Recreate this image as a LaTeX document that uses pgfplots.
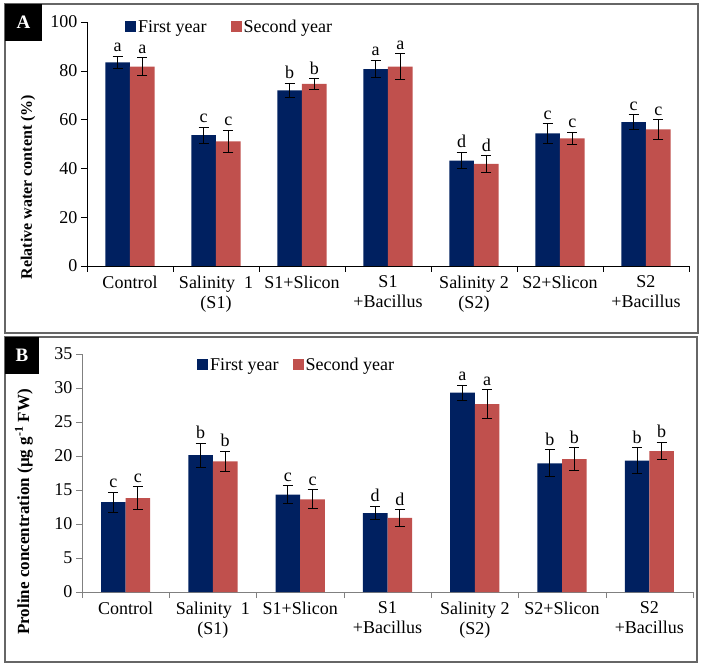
\documentclass[border=0pt]{standalone}
\usepackage{pgfplots}
\usepackage{pgfplotstable}
\pgfplotsset{compat=1.18}
\usepackage{fontspec}
\setmainfont{Liberation Serif}
\definecolor{navy}{HTML}{002060}
\definecolor{brick}{HTML}{C0504D}

\pgfplotstableread{
x y err lab
0 83.5 2.5 a
1 53.6 3.3 c
2 72.0 3.0 b
3 80.7 3.6 a
4 43.2 3.4 d
5 54.4 4.0 c
6 59.0 3.1 c
}\Afirst
\pgfplotstableread{
x y err lab
0 81.7 3.6 a
1 51.1 4.6 c
2 74.6 2.1 b
3 81.7 5.4 a
4 41.9 3.4 d
5 52.3 2.5 c
6 56.0 4.0 c
}\Asecond
\pgfplotstableread{
x y err lab
0 13.2 1.45 c
1 20.1 1.75 b
2 14.3 1.35 c
3 11.6 1.0 d
4 29.3 1.1 a
5 18.9 2.0 b
6 19.3 1.9 b
}\Bfirst
\pgfplotstableread{
x y err lab
0 13.8 1.7 c
1 19.2 1.5 b
2 13.6 1.4 c
3 10.9 1.2 d
4 27.6 2.1 a
5 19.5 1.7 b
6 20.7 1.3 b
}\Bsecond

\pgfplotsset{
  common/.style={
    scale only axis, ybar=0pt, bar width=24.6pt, clip=false,
    xmin=-0.5, xmax=6.5, enlarge x limits=false, ymin=0,
    axis x line*=bottom, axis y line*=left,
    xtick={0,...,6},
    xticklabels={Control,{Salinity~~1\\(S1)},S1+Slicon,{S1\\+Bacillus},{Salinity 2\\(S2)},S2+Slicon,{S2\\+Bacillus}},
    minor xtick={-0.5,0.5,...,6.5},
    major x tick style={draw=none},
    tick align=outside, major tick length=6pt, minor tick length=6pt,
    tick label style={font=\fontsize{18}{20}\selectfont},
    x tick label style={align=center},
    /pgf/number format/assume math mode=true,
    legend columns=2,
    legend image code/.code={\fill[##1,draw=none] (0pt,-5.5pt) rectangle (11pt,5.5pt);},
    error bars/y dir=both, error bars/y explicit,
    error bars/error bar style={line width=0.9pt,black},
    error bars/error mark options={rotate=90,mark size=5pt,line width=0.9pt,black},
    nodes near coords, point meta=explicit symbolic,
  },
}

\begin{document}
\begin{tikzpicture}[x=1pt,y=1pt]
\useasboundingbox (0,0) rectangle (704,667);
\draw[gray!80!black, line width=1.2pt] (5,334) rectangle (698,663);
\draw[gray!80!black, line width=1.2pt] (5,5) rectangle (697,330);
\fill[black] (5,626) rectangle (42,663);
\node[white, font=\bfseries\fontsize{19}{20}\selectfont] at (23.5,644.5) {A};
\fill[black] (5,293) rectangle (39,330);
\node[white, font=\bfseries\fontsize{19}{20}\selectfont] at (22,311.5) {B};

\begin{axis}[common,
  at={(87pt,401pt)}, anchor=south west,
  width=602pt, height=244pt, ymax=100, ytick={0,20,...,100},
  axis line style={black}, tick style={black},
  legend style={at={(rel axis cs:0.063,0.98)}, anchor=west, draw=none, fill=none,
    font=\fontsize{18}{20}\selectfont, inner sep=0pt,
    /tikz/every even column/.append style={column sep=22pt}},
  visualization depends on={\thisrow{err} \as \myerr},
  every node near coord/.append style={font=\fontsize{18}{20}\selectfont, black, inner sep=1pt, yshift={\myerr*2.44pt+3pt}},
]
\addplot[fill=navy, draw=none] table[x=x,y=y,y error=err,meta=lab] {\Afirst};
\addplot[fill=brick, draw=none] table[x=x,y=y,y error=err,meta=lab] {\Asecond};
\legend{First year, Second year}
\end{axis}

\begin{axis}[common,
  at={(82pt,75pt)}, anchor=south west,
  width=611pt, height=238.3pt, ymax=35, ytick={0,5,...,35},
  axis line style={gray}, tick style={gray},
  legend style={at={(rel axis cs:0.188,0.953)}, anchor=west, draw=none, fill=none,
    font=\fontsize{18}{20}\selectfont, inner sep=0pt,
    /tikz/every even column/.append style={column sep=12pt}},
  visualization depends on={\thisrow{err} \as \myerr},
  every node near coord/.append style={font=\fontsize{18}{20}\selectfont, black, inner sep=1pt, yshift={\myerr*6.81pt+3pt}},
]
\addplot[fill=navy, draw=none] table[x=x,y=y,y error=err,meta=lab] {\Bfirst};
\addplot[fill=brick, draw=none] table[x=x,y=y,y error=err,meta=lab] {\Bsecond};
\legend{First year, Second year}
\end{axis}

\node[rotate=90, font=\bfseries\fontsize{16}{18}\selectfont] at (28,480) {Relative water content (\%)};
\node[rotate=90, font=\bfseries\fontsize{17}{19}\selectfont] at (24,155) {Proline concentration (µg g\textsuperscript{-1} FW)};
\end{tikzpicture}
\end{document}
